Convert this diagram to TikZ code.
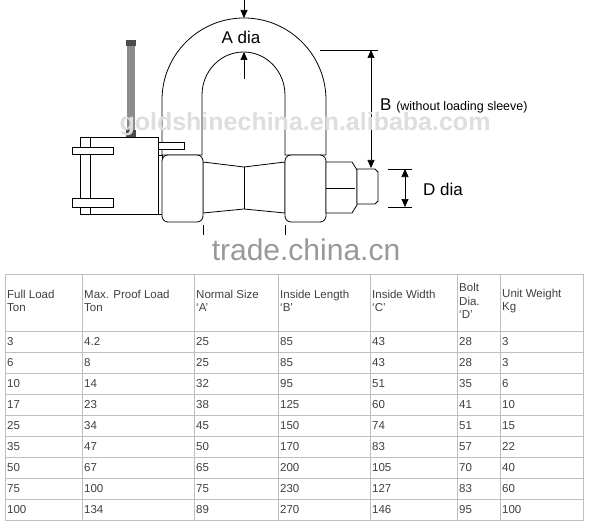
\documentclass[tikz,border=0pt]{standalone}
\usepackage{fontspec}
\setmainfont{Liberation Sans}
\usetikzlibrary{arrows.meta}
\begin{document}
\begin{tikzpicture}[x=1pt,y=-1pt,
  part/.style={draw=black,line width=0.8pt,fill=white},
  dim/.style={draw=black,line width=0.7pt},
  dimarr/.style={dim,{Triangle[length=8pt,width=7pt]}-{Triangle[length=8pt,width=7pt]}},
  onearr/.style={dim,-{Triangle[length=8pt,width=7pt]}},
  cell/.style={anchor=west,font=\fontsize{11.5}{13.5}\selectfont,text=black!75,inner sep=0pt,align=left},
  lbl/.style={font=\fontsize{17}{20}\selectfont,inner sep=0pt}]
\useasboundingbox (0,0) rectangle (605,524);
\fill[white] (0,0) rectangle (605,524);
% shackle bow
\draw[part] (162,155) -- (162,100) arc[start angle=180,end angle=360,x radius=82,y radius=82] -- (326,155)
  -- (285,155) -- (285,95) arc[start angle=0,end angle=-180,x radius=41.5,y radius=43] -- (202,155) -- cycle;
% gray pin
\fill[black!45] (127,40) rectangle (135,137);
\fill[black!70] (126,40) rectangle (136,46);
\fill[black!70] (126,130) rectangle (136,137);
% left box
\draw[part] (80,137) rectangle (158,214);
\draw[part] (90,137) -- (90,214);
\draw[part] (72,147) rectangle (113,154);
\draw[part] (72,198) rectangle (113,207);
\draw[part] (158,142) rectangle (184,149);
\draw[part] (158,155) rectangle (162,214);
% pin tapered
\draw[part] (203,162) -- (244,167) -- (285,162) -- (285,213) -- (244,209) -- (203,213) -- cycle;
\draw[part] (244,167) -- (244,209);
% collars
\draw[part,rounded corners=6pt] (162,155) rectangle (203,222);
\draw[part,rounded corners=6pt] (285,155) rectangle (326,222);
% nut
\draw[part] (326,162) -- (352,162) -- (357,170) -- (357,205) -- (352,213) -- (326,213) -- cycle;
\draw[part] (326,188) -- (355,188);
\draw[part] (357,169) -- (375,169) -- (378,172) -- (378,201) -- (375,204) -- (357,204) -- cycle;
% ticks
\draw[dim] (203,225) -- (203,235);
\draw[dim] (285,225) -- (285,235);
% dimensions
\coordinate (t0) at (244,0); \coordinate (t1) at (244,18);
\draw[onearr] (t0) -- (t1);
\coordinate (i0) at (244,79); \coordinate (i1) at (244,52);
\draw[onearr] (i0) -- (i1);
\node[lbl] (adia) at (241,37) {A dia};
\coordinate (b0) at (320,50); \coordinate (b1) at (378,50);
\draw[dim] (b0) -- (b1);
\coordinate (ba) at (371,50); \coordinate (bb) at (371,168);
\draw[dimarr] (ba) -- (bb);
\node[lbl,anchor=west] (btxt) at (380,106) {B \fontsize{12.5}{14}\selectfont(without loading sleeve)};
\coordinate (d0) at (388,169); \coordinate (d1) at (412,169);
\coordinate (d2) at (388,207); \coordinate (d3) at (412,207);
\draw[dim] (d0) -- (d1); \draw[dim] (d2) -- (d3);
\coordinate (da) at (405,169); \coordinate (db) at (405,207);
\draw[dimarr] (da) -- (db);
\node[lbl,anchor=west] (ddia) at (423,189) {D dia};
% watermarks
\node[font=\bfseries\fontsize{25}{28}\selectfont,text=black!13,inner sep=0pt] (wm1) at (305,124) {goldshinechina.en.alibaba.com};
\node[font=\fontsize{30}{34}\selectfont,text=black!40,inner sep=0pt] (wm2) at (306,250) {trade.china.cn};
% table
\draw[black!25,line width=0.8pt] (5,274) rectangle (583,520);
\foreach \x in {82,194,278,370,457,500} \draw[black!25,line width=0.8pt] (\x,274) -- (\x,520);
\foreach \y in {331,352,373,394,415,436,457,478,499} \draw[black!25,line width=0.8pt] (5,\y) -- (583,\y);
\node[cell] (h1) at (7,301) {Full Load\\Ton};
\node[cell] (h2) at (84,301) {Max. Proof Load\\Ton};
\node[cell] (h3) at (196,301) {Normal Size\\‘A’};
\node[cell] (h4) at (280,301) {Inside Length\\‘B’};
\node[cell] (h5) at (372,301) {Inside Width\\‘C’};
\node[cell] (h6) at (459,301) {Bolt\\Dia.\\‘D’};
\node[cell] (h7) at (502,301) {Unit Weight\\Kg};
\foreach \a/\b/\c/\d/\e/\f/\g [count=\i] in {3/4.2/25/85/43/28/3,6/8/25/85/43/28/3,10/14/32/95/51/35/6,17/23/38/125/60/41/10,25/34/45/150/74/51/15,35/47/50/170/83/57/22,50/67/65/200/105/70/40,75/100/75/230/127/83/60,100/134/89/270/146/95/100}{
  \pgfmathsetmacro{\yy}{331+21*\i-10.5}
  \node[cell] at (7,\yy) {\a};
  \node[cell] at (84,\yy) {\b};
  \node[cell] at (196,\yy) {\c};
  \node[cell] at (280,\yy) {\d};
  \node[cell] at (372,\yy) {\e};
  \node[cell] at (459,\yy) {\f};
  \node[cell] at (502,\yy) {\g};
}
\end{tikzpicture}
\end{document}
